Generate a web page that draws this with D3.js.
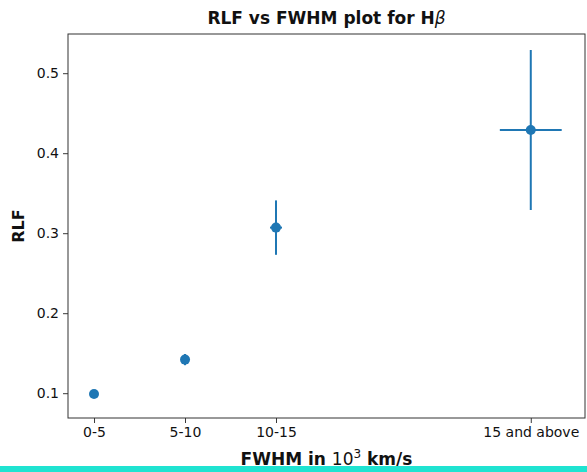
<!DOCTYPE html>
<html>
<head>
<meta charset="utf-8">
<script src="https://cdn.jsdelivr.net/npm/d3@7"></script>
<style>
  body { margin: 0; background: #fff; }
  text { font-family: "DejaVu Sans", sans-serif; fill: #111; }
</style>
</head>
<body>
<div class="chart"></div>
<script>
var svgWidth = 587;
var svgHeight = 472;

var margin = { top: 34, right: 2, bottom: 54, left: 68 };

var width = svgWidth - margin.left - margin.right;
var height = svgHeight - margin.top - margin.bottom;

// data
var categories = ["0-5", "5-10", "10-15", "15 and above"];
var xValues = [2.5, 7.5, 12.5, 26.5];
var xErrors = [0, 0, 0.33, 1.7];
var rlfValues = [0.099, 0.142, 0.307, 0.429];
var rlfErrors = [0.004, 0.007, 0.034, 0.1];
var yTicks = [0.1, 0.2, 0.3, 0.4, 0.5];

// axis limits as shown in the picture
var xLimits = [1.07, 29.48];
var yLimits = [0.069, 0.549];

var points = categories.map(function(c, i) {
  return { cat: c, x: xValues[i], xerr: xErrors[i], y: rlfValues[i], yerr: rlfErrors[i] };
});

var svg = d3.select(".chart")
  .append("svg")
  .attr("width", svgWidth)
  .attr("height", svgHeight);

var chartGroup = svg.append("g")
  .attr("transform", `translate(${margin.left}, ${margin.top})`);

var xLinearScale = d3.scaleLinear()
  .domain(xLimits)
  .range([0, width]);

var yLinearScale = d3.scaleLinear()
  .domain(yLimits)
  .range([height, 0]);

var bottomAxis = d3.axisBottom(xLinearScale)
  .tickValues(xValues)
  .tickFormat((d, i) => categories[i])
  .tickSize(5)
  .tickPadding(4);

var leftAxis = d3.axisLeft(yLinearScale)
  .tickValues(yTicks)
  .tickFormat(d3.format(".1f"))
  .tickSize(5)
  .tickPadding(4);

var xAxis = chartGroup.append("g")
  .attr("transform", `translate(0, ${height})`)
  .call(bottomAxis);

var yAxis = chartGroup.append("g")
  .call(leftAxis);

[xAxis, yAxis].forEach(function(ax) {
  ax.select(".domain").remove();
  ax.selectAll("line").attr("stroke", "#222").attr("stroke-width", 0.9);
  ax.selectAll("text")
    .attr("font-family", "DejaVu Sans")
    .attr("font-size", 14)
    .attr("fill", "#222");
});

// frame
chartGroup.append("rect")
  .attr("x", 0)
  .attr("y", 0)
  .attr("width", width)
  .attr("height", height)
  .attr("fill", "none")
  .attr("stroke", "#333")
  .attr("stroke-width", 1);

var blue = "#1f77b4";

// error bars
var errGroup = chartGroup.append("g");
errGroup.selectAll(".yerr")
  .data(points)
  .enter()
  .append("line")
  .attr("x1", d => xLinearScale(d.x))
  .attr("x2", d => xLinearScale(d.x))
  .attr("y1", d => yLinearScale(d.y - d.yerr))
  .attr("y2", d => yLinearScale(d.y + d.yerr))
  .attr("stroke", blue)
  .attr("stroke-width", 2);

errGroup.selectAll(".xerr")
  .data(points.filter(d => d.xerr > 0))
  .enter()
  .append("line")
  .attr("x1", d => xLinearScale(d.x - d.xerr))
  .attr("x2", d => xLinearScale(d.x + d.xerr))
  .attr("y1", d => yLinearScale(d.y))
  .attr("y2", d => yLinearScale(d.y))
  .attr("stroke", blue)
  .attr("stroke-width", 2);

// markers
chartGroup.selectAll("circle")
  .data(points)
  .enter()
  .append("circle")
  .attr("cx", d => xLinearScale(d.x))
  .attr("cy", d => yLinearScale(d.y))
  .attr("r", 5)
  .attr("fill", blue);

// title
var title = svg.append("text")
  .attr("x", margin.left + width / 2)
  .attr("y", 24)
  .attr("text-anchor", "middle")
  .attr("font-size", 17)
  .attr("font-weight", "bold");
title.append("tspan").text("RLF vs FWHM plot for H");
title.append("tspan")
  .attr("font-weight", "normal")
  .attr("font-style", "italic")
  .text("β");

// x label
var xLabel = svg.append("text")
  .attr("x", margin.left + width / 2)
  .attr("y", 465)
  .attr("text-anchor", "middle")
  .attr("font-size", 17)
  .attr("font-weight", "bold");
xLabel.append("tspan").text("FWHM in ");
xLabel.append("tspan").attr("font-weight", "normal").text("10");
xLabel.append("tspan").attr("font-weight", "normal").attr("font-size", 12).attr("dy", -7).text("3");
xLabel.append("tspan").attr("dy", 7).text(" km/s");

// y label
svg.append("text")
  .attr("transform", `translate(24, ${margin.top + height / 2}) rotate(-90)`)
  .attr("text-anchor", "middle")
  .attr("font-size", 16)
  .attr("font-weight", "bold")
  .text("RLF");

// teal strip along the bottom edge
svg.append("rect")
  .attr("x", 0)
  .attr("y", 466)
  .attr("width", svgWidth)
  .attr("height", 6)
  .attr("fill", "#1fe3d1");
</script>
</body>
</html>
